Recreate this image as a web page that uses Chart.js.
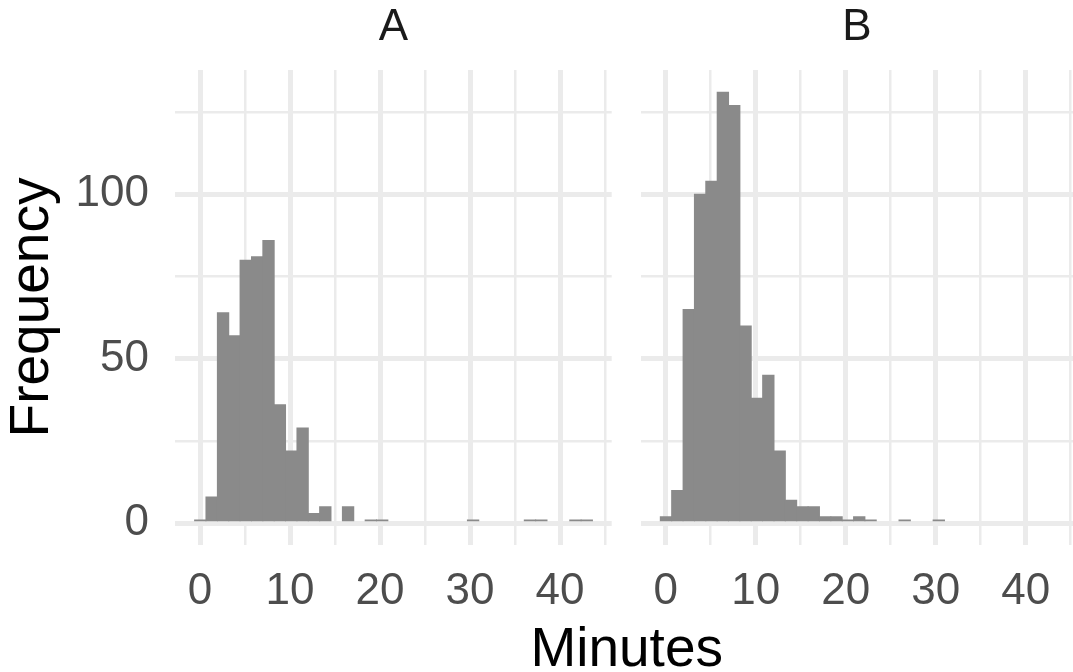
<!DOCTYPE html>
<html>
<head>
<meta charset="utf-8">
<script src="https://cdn.jsdelivr.net/npm/chart.js@4.4.1/dist/chart.umd.min.js"></script>
<style>
  html, body { margin: 0; padding: 0; background: #fff; overflow: hidden; }
  #wrap { position: relative; width: 1073px; height: 672px; }
  canvas { position: absolute; top: 0; }
  #chartA { left: 0; }
  #chartB { left: 620px; }
  #xTitle { position: absolute; left: 626.7px; top: 620px; transform: translateX(-50%);
    font: 55px/55px "Liberation Sans", Arial, Helvetica, sans-serif; color: #000; white-space: nowrap; }
</style>
</head>
<body>
<div id="wrap">
  <canvas id="chartA" width="620" height="672"></canvas>
  <canvas id="chartB" width="453" height="672"></canvas>
  <div id="xTitle">Minutes</div>
</div>
<script>
// histogram bins (centre of each bin, minutes)
const binCenters = [0.03, 1.29, 2.56, 3.82, 5.08, 6.35, 7.61, 8.87, 10.13, 11.40, 12.66, 13.92,
  15.19, 16.45, 17.71, 18.98, 20.24, 21.50, 22.76, 24.03, 25.29, 26.55, 27.82, 29.08, 30.34,
  31.61, 32.87, 34.13, 35.39, 36.66, 37.92, 39.18, 40.45, 41.71, 42.97];
const countsA = [1, 8, 64, 57, 80, 81, 86, 36, 22, 29, 3, 5, 0, 5, 0, 1, 1, 0, 0, 0, 0, 0, 0, 0, 1,
  0, 0, 0, 0, 1, 1, 0, 0, 1, 1];
const countsB = [2, 10, 65, 100, 104, 131, 127, 60, 38, 45, 22, 7, 5, 5, 2, 2, 1, 2, 1, 0, 0, 1, 0, 0, 1,
  0, 0, 0, 0, 0, 0, 0, 0, 0, 0];
const facetLabels = ['A', 'B'];

const fontFamily = '"Liberation Sans", Arial, Helvetica, sans-serif';
const barFill = '#8A8A8A';
const gridCol = '#EBEBEB';
Chart.defaults.font.family = fontFamily;

function panelChart(id, label, counts, o) {
  return new Chart(document.getElementById(id), {
    type: 'bar',
    data: {
      datasets: [{
        label: label,
        data: binCenters.map((x, i) => ({ x: x, y: counts[i] })),
        backgroundColor: barFill,
        borderWidth: 0,
        // zero-count bins stay invisible, the rest overlap slightly so no seams show
        inflateAmount: c => (c.raw && c.raw.y > 0 ? 0.5 : 0),
        barPercentage: 1,
        categoryPercentage: 1
      }]
    },
    options: {
      responsive: false,
      animation: false,
      devicePixelRatio: 1,
      layout: { padding: { top: 0, right: o.padRight, bottom: 0, left: 0 } },
      plugins: { legend: { display: false }, tooltip: { enabled: false } },
      scales: {
        x: {
          type: 'linear', min: -2.78, max: o.xMax, offset: false,
          grid: { offset: false, color: gridCol, drawTicks: false,
            lineWidth: c => (c.tick && c.tick.value % 10 === 0) ? 5 : 2.5 },
          border: { display: false },
          ticks: { stepSize: 5, includeBounds: false, autoSkip: false, maxRotation: 0,
            padding: 24.5, color: '#4D4D4D', font: { size: 44, lineHeight: 1 },
            callback: v => (v % 10 === 0 ? v : '') },
          afterFit: s => { s.height = 127; s.paddingLeft = 0; s.paddingRight = 0; }
        },
        xStrip: {
          type: 'linear', position: 'top', min: 0, max: 1,
          grid: { display: false }, border: { display: false }, ticks: { display: false },
          title: { display: true, text: label, color: '#1A1A1A',
            font: { size: 44, lineHeight: 1 }, padding: { top: 6, bottom: 0 } },
          afterFit: s => { s.height = 70; s.paddingLeft = 0; s.paddingRight = 0; }
        },
        y: {
          min: -6.6, max: 137.8,
          grid: { color: gridCol, drawTicks: false,
            lineWidth: c => (c.tick && c.tick.value % 50 === 0) ? 5 : 2.5 },
          border: { display: false },
          ticks: { display: o.showY, stepSize: 25, includeBounds: false, padding: 26,
            color: '#4D4D4D', font: { size: 44, lineHeight: 1 },
            callback: v => (v % 50 === 0 ? v : '') },
          title: { display: o.showY, text: 'Frequency', color: '#000',
            font: { size: 55, lineHeight: 1 }, padding: { top: 5, bottom: 0 } },
          afterFit: s => { s.width = o.yWidth; s.paddingTop = 0; s.paddingBottom = 0; }
        }
      }
    }
  });
}

panelChart('chartA', facetLabels[0], countsA, { xMax: 45.74, padRight: 8.3, showY: true, yWidth: 175 });
panelChart('chartB', facetLabels[1], countsB, { xMax: 45.25, padRight: 0, showY: false, yWidth: 20.7 });
</script>
</body>
</html>
